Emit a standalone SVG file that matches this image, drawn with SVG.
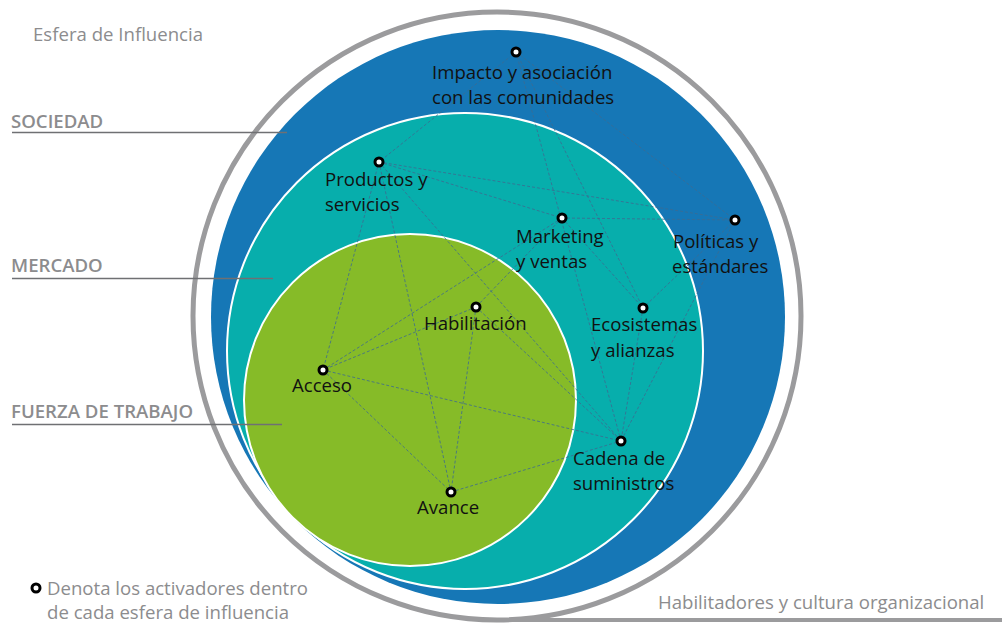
<svg xmlns="http://www.w3.org/2000/svg" width="1002" height="625" viewBox="0 0 1002 625">
<style>
.lbl{font-family:"Open Sans","Noto Sans",sans-serif;font-size:18.6px;fill:#111;}
.side{font-family:"Open Sans","Noto Sans",sans-serif;font-size:18.6px;font-weight:600;fill:#8c8c8e;}
.note{font-family:"Open Sans","Noto Sans",sans-serif;font-size:18.6px;fill:#8c8c8e;}
.rule{stroke:#6f7073;stroke-width:1.6;}
.dash{stroke:#3d6a90;stroke-opacity:0.8;stroke-width:1;stroke-dasharray:3 2;fill:none;}
.dot{fill:#fff;stroke:#000;stroke-width:3;}
</style>
<rect width="1002" height="625" fill="#fff"/>
<g id="spheres">
<circle cx="497" cy="316" r="304" fill="none" stroke="#9b9b9d" stroke-width="5"/>
<line x1="497" y1="620" x2="1002" y2="620" stroke="#9b9b9d" stroke-width="4"/>
<circle cx="498" cy="317" r="287" fill="#1677b6"/>
<circle cx="465" cy="351" r="238" fill="#07aeac" stroke="#fff" stroke-width="2"/>
<circle cx="410" cy="400" r="166" fill="#86bb28" stroke="#fff" stroke-width="2"/>
</g>
<g id="side-labels">
<text class="note" x="33" y="41" font-size="19.6">Esfera de Influencia</text>
<text class="side" x="11" y="128">SOCIEDAD</text>
<line class="rule" x1="12" y1="132.5" x2="287" y2="132.5"/>
<text class="side" x="11" y="272">MERCADO</text>
<line class="rule" x1="12" y1="278.5" x2="273" y2="278.5"/>
<text class="side" x="11" y="418">FUERZA DE TRABAJO</text>
<line class="rule" x1="12" y1="424.5" x2="282" y2="424.5"/>
</g>
<g id="connectors">
<line class="dash" x1="516" y1="52" x2="379" y2="162"/>
<line class="dash" x1="516" y1="52" x2="621" y2="441"/>
<line class="dash" x1="516" y1="52" x2="643" y2="308"/>
<line class="dash" x1="516" y1="52" x2="735" y2="220"/>
<line class="dash" x1="379" y1="162" x2="562" y2="218"/>
<line class="dash" x1="379" y1="162" x2="735" y2="220"/>
<line class="dash" x1="379" y1="162" x2="323" y2="370"/>
<line class="dash" x1="379" y1="162" x2="451" y2="492"/>
<line class="dash" x1="379" y1="162" x2="621" y2="441"/>
<line class="dash" x1="562" y1="218" x2="735" y2="220"/>
<line class="dash" x1="562" y1="218" x2="643" y2="308"/>
<line class="dash" x1="562" y1="218" x2="476" y2="307"/>
<line class="dash" x1="562" y1="218" x2="323" y2="370"/>
<line class="dash" x1="735" y1="220" x2="643" y2="308"/>
<line class="dash" x1="735" y1="220" x2="621" y2="441"/>
<line class="dash" x1="643" y1="308" x2="621" y2="441"/>
<line class="dash" x1="476" y1="307" x2="323" y2="370"/>
<line class="dash" x1="476" y1="307" x2="451" y2="492"/>
<line class="dash" x1="476" y1="307" x2="621" y2="441"/>
<line class="dash" x1="323" y1="370" x2="621" y2="441"/>
<line class="dash" x1="323" y1="370" x2="451" y2="492"/>
<line class="dash" x1="451" y1="492" x2="621" y2="441"/>
</g>
<g id="node-impacto">
<circle class="dot" cx="516" cy="52" r="4"/>
<text class="lbl" x="432" y="79">Impacto y asociación</text>
<text class="lbl" x="432" y="104">con las comunidades</text>
</g>
<g id="node-productos">
<circle class="dot" cx="379" cy="162" r="4"/>
<text class="lbl" x="325" y="186">Productos y</text>
<text class="lbl" x="325" y="211">servicios</text>
</g>
<g id="node-marketing">
<circle class="dot" cx="562" cy="218" r="4"/>
<text class="lbl" x="516" y="243">Marketing</text>
<text class="lbl" x="516" y="268">y ventas</text>
</g>
<g id="node-politicas">
<circle class="dot" cx="735" cy="220" r="4"/>
<text class="lbl" x="673" y="248">Políticas y</text>
<text class="lbl" x="672" y="273">estándares</text>
</g>
<g id="node-habilitacion">
<circle class="dot" cx="476" cy="307" r="4"/>
<text class="lbl" x="424" y="330">Habilitación</text>
</g>
<g id="node-ecosistemas">
<circle class="dot" cx="643" cy="308" r="4"/>
<text class="lbl" x="591" y="331">Ecosistemas</text>
<text class="lbl" x="591" y="357">y alianzas</text>
</g>
<g id="node-acceso">
<circle class="dot" cx="323" cy="370" r="4"/>
<text class="lbl" x="292" y="392">Acceso</text>
</g>
<g id="node-cadena">
<circle class="dot" cx="621" cy="441" r="4"/>
<text class="lbl" x="573" y="465">Cadena de</text>
<text class="lbl" x="573" y="490">suministros</text>
</g>
<g id="node-avance">
<circle class="dot" cx="451" cy="492" r="4"/>
<text class="lbl" x="417" y="514">Avance</text>
</g>
<g id="legend">
<circle class="dot" cx="36" cy="588" r="4"/>
<text class="note" x="47" y="595">Denota los activadores dentro</text>
<text class="note" x="47" y="619">de cada esfera de influencia</text>
<text class="note" x="658" y="609">Habilitadores y cultura organizacional</text>
</g>
</svg>
